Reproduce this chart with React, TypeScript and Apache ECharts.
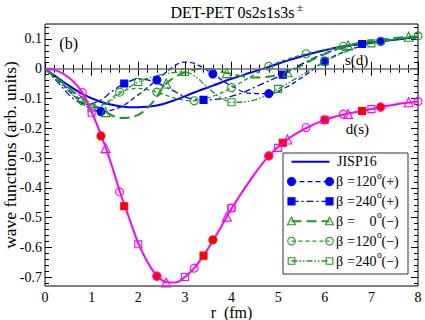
import React, { useEffect, useRef } from "react";
import * as echarts from "echarts";

const FONT = '"Liberation Serif", "Times New Roman", serif';
const BLUE = "#0000ff";
const GREEN = "#1c9a1c";
const MAGENTA = "#ff00ff";
const RED = "#ff0000";

// ---- axes ----
const yMajorTicks = [-0.7, -0.6, -0.5, -0.4, -0.3, -0.2, -0.1, 0, 0.1];
const yMinorTicks: number[] = [];
for (let k = -36; k <= 7; k++) {
  if (k % 5 !== 0) yMinorTicks.push(Math.round(k * 2) / 100);
}

// ---- JISP16 ----
const jispSdR = [0, 0.4, 0.8, 1.2, 1.6, 2.0, 2.4, 2.8, 3.2, 3.6, 4.0, 4.4, 4.8, 5.2, 5.6, 6.0, 6.4, 6.8, 7.2, 7.6, 8.0];
const jispSdV = [0, -0.045, -0.085, -0.112, -0.126, -0.13, -0.124, -0.105, -0.08, -0.057, -0.034, -0.014, 0.006, 0.027, 0.046, 0.062, 0.075, 0.084, 0.091, 0.099, 0.106];

const jispDsR = [0, 0.2, 0.4, 0.6, 0.8, 1.0, 1.2, 1.4, 1.6, 1.8, 2.0, 2.2, 2.4, 2.6, 2.8, 3.0, 3.2, 3.4, 3.6, 3.8, 4.0, 4.4, 4.8, 5.2, 5.6, 6.0, 6.4, 6.8, 7.2, 7.6, 8.0];
const jispDsV = [0, -0.004, -0.018, -0.042, -0.08, -0.145, -0.222, -0.31, -0.41, -0.5, -0.586, -0.65, -0.695, -0.717, -0.718, -0.7, -0.67, -0.628, -0.578, -0.525, -0.47, -0.375, -0.293, -0.238, -0.2, -0.172, -0.154, -0.142, -0.129, -0.118, -0.11];

// ---- s(d) components of the beta states ----
const b120pR = [0, 0.4, 0.8, 1.2, 1.6, 2.0, 2.4, 2.8, 3.0, 3.2, 3.6, 4.0, 4.4, 4.8, 5.2, 5.6, 6.0, 6.4, 6.8, 7.2, 7.6, 8.0];
const b120pV = [0, -0.055, -0.115, -0.144, -0.13, -0.088, -0.038, 0.012, 0.022, 0.018, -0.018, -0.058, -0.083, -0.084, -0.06, -0.02, 0.025, 0.056, 0.077, 0.092, 0.1, 0.106];
const b120pMarkR = [1.2, 2.4, 3.6, 4.8, 6.0, 7.2];

const b240pR = [0, 0.3, 0.6, 0.9, 1.2, 1.45, 1.7, 2.0, 2.3, 2.7, 3.05, 3.4, 3.8, 4.2, 4.6, 5.1, 5.5, 5.9, 6.4, 6.8, 7.2, 7.6, 8.0];
const b240pV = [0, -0.05, -0.1, -0.12, -0.105, -0.075, -0.05, -0.035, -0.042, -0.07, -0.097, -0.105, -0.1, -0.083, -0.055, -0.02, 0.015, 0.045, 0.07, 0.083, 0.092, 0.1, 0.106];
const b240pMarkR = [1.7, 3.4, 5.1, 6.8];

const b0mR = [0, 0.4, 0.8, 1.3, 1.65, 2.0, 2.3, 2.6, 3.0, 3.4, 3.9, 4.5, 5.2, 5.8, 6.5, 7.2, 7.8, 8.0];
const b0mV = [0, -0.05, -0.1, -0.146, -0.166, -0.155, -0.115, -0.05, -0.012, 0.0, -0.015, -0.03, -0.012, 0.035, 0.078, 0.097, 0.107, 0.108];
const b0mMarkR = [1.3, 2.6, 3.9, 5.2, 6.5, 7.8];

const b120mR = [0, 0.4, 0.8, 1.1, 1.35, 1.6, 2.0, 2.4, 2.8, 3.2, 3.6, 4.0, 4.4, 4.8, 5.2, 5.6, 6.0, 6.4, 6.8, 7.2, 7.6, 8.0];
const b120mV = [0, -0.05, -0.108, -0.128, -0.11, -0.079, -0.066, -0.079, -0.1, -0.108, -0.093, -0.064, -0.028, 0.008, 0.032, 0.05, 0.064, 0.075, 0.084, 0.092, 0.101, 0.11];
const b120mMarkR = [0.8, 1.6, 2.4, 3.2, 4.0, 4.8, 5.6, 6.4, 7.2, 8.0];

const b240mR = [0, 0.5, 1.0, 1.3, 1.6, 2.0, 2.5, 3.0, 3.25, 3.5, 3.75, 4.0, 4.5, 5.0, 5.5, 6.0, 6.5, 7.0, 7.5, 8.0];
const b240mV = [0, -0.075, -0.131, -0.12, -0.085, -0.045, -0.02, -0.011, -0.03, -0.065, -0.095, -0.113, -0.105, -0.068, -0.022, 0.024, 0.06, 0.085, 0.098, 0.106];
const b240mMarkR = [1.0, 2.0, 3.0, 4.0, 5.0, 6.0, 7.0];

// ---- d(s) components (markers on the d(s) curve) ----
const ds120pR = [1.2, 2.4, 3.6, 4.8, 6.0, 7.2];
const ds120pV = [-0.226, -0.697, -0.575, -0.293, -0.172, -0.129];
const ds240pR = [1.7, 3.4, 5.1, 6.8];
const ds240pV = [-0.462, -0.628, -0.249, -0.142];
const ds0mR = [1.3, 2.6, 3.9, 5.2, 6.5, 7.8];
const ds0mV = [-0.267, -0.718, -0.497, -0.238, -0.152, -0.113];
const ds120mR = [0.8, 1.6, 2.4, 3.2, 4.0, 4.8, 5.6, 6.4, 7.2, 8.0];
const ds120mV = [-0.08, -0.414, -0.697, -0.67, -0.468, -0.293, -0.198, -0.153, -0.129, -0.11];
const ds240mR = [1.0, 2.0, 3.0, 4.0, 5.0, 6.0, 7.0];
const ds240mV = [-0.148, -0.59, -0.7, -0.468, -0.266, -0.172, -0.136];

// ---- legend ----
const legendNums = ["", "120", "240", "0", "120", "240"];
const legendSigns = ["", "(+)", "(+)", "(\u2212)", "(\u2212)", "(\u2212)"];

const pairs = (r: number[], v: number[]) => r.map((x, i) => [x, v[i]]);
const pick = (r: number[], v: number[], m: number[]) =>
  pairs(r, v).filter((p) => m.includes(p[0]));

const lineS = (r: number[], v: number[], color: string, width: number, type: any, z: number, extra: any = {}) => ({
  type: "line",
  data: pairs(r, v),
  showSymbol: false,
  smooth: 0.35,
  silent: true,
  lineStyle: { color, width, type },
  z,
  ...extra,
});

const markS = (data: number[][], symbol: string, size: number, fill: string, stroke: string, z: number) => ({
  type: "scatter",
  data,
  symbol,
  symbolSize: size,
  silent: true,
  itemStyle: { color: fill, borderColor: stroke, borderWidth: 1.1, opacity: 1 },
  z,
});

const txt = (text: string, x: number, y: number, size: number, align = "left") => ({
  type: "text",
  x,
  y,
  z: 110,
  silent: true,
  style: {
    text,
    fontFamily: FONT,
    fontSize: size,
    fill: "#000",
    align,
    textAlign: align,
    verticalAlign: "middle",
    textVerticalAlign: "middle",
  },
});

function legendMarker(kind: string, cx: number, cy: number, color: string) {
  const st = (filled: boolean) => ({ fill: filled ? color : "rgba(0,0,0,0)", stroke: color, lineWidth: 1.1 });
  if (kind === "fcircle") return { type: "circle", z: 105, shape: { cx, cy, r: 4 }, style: st(true) };
  if (kind === "fsquare") return { type: "rect", z: 105, shape: { x: cx - 3.5, y: cy - 3.5, width: 7, height: 7 }, style: st(true) };
  if (kind === "otri")
    return { type: "polygon", z: 105, shape: { points: [[cx, cy - 4], [cx + 4, cy + 3.5], [cx - 4, cy + 3.5]] }, style: st(false) };
  if (kind === "ocircle") return { type: "circle", z: 105, shape: { cx, cy, r: 3.8 }, style: st(false) };
  return { type: "rect", z: 105, shape: { x: cx - 3.3, y: cy - 3.3, width: 6.6, height: 6.6 }, style: st(false) };
}

const legendStyle = [
  { color: BLUE, width: 2, dash: null, mk: "" },
  { color: BLUE, width: 1.3, dash: [5, 3], mk: "fcircle" },
  { color: BLUE, width: 1.3, dash: [7, 3, 2, 3], mk: "fsquare" },
  { color: GREEN, width: 2, dash: [10, 5], mk: "otri" },
  { color: GREEN, width: 1.3, dash: [4, 3], mk: "ocircle" },
  { color: GREEN, width: 1.3, dash: [6, 2, 1.5, 2, 1.5, 2], mk: "osquare" },
];

function buildGraphic() {
  const g: any[] = [];
  g.push(txt("DET-PET 0s2s1s3s", 170.5, 12.5, 16));
  g.push(txt("\u00b1", 297, 7, 11));
  g.push(txt("(b)", 59.3, 43, 16));
  g.push(txt("s(d)", 345, 60, 15));
  g.push(txt("d(s)", 345.7, 129, 15));
  const bx = 283, by = 153, bw = 125, bh = 121;
  g.push({ type: "rect", z: 100, silent: true, shape: { x: bx, y: by, width: bw, height: bh }, style: { fill: "#fff", stroke: "#333", lineWidth: 1 } });
  const x1 = 291.5, x2 = 329.5, tx = 337;
  for (let i = 0; i < 6; i++) {
    const y = 161.7 + i * 19.86;
    const s = legendStyle[i];
    g.push({ type: "line", z: 102, silent: true, shape: { x1, y1: y, x2, y2: y }, style: { stroke: s.color, lineWidth: s.width, lineDash: s.dash } });
    if (s.mk) {
      g.push(legendMarker(s.mk, x1, y, s.color));
      g.push(legendMarker(s.mk, x2, y, s.color));
    }
    if (i === 0) {
      g.push(txt("JISP16", tx, y, 14));
    } else {
      g.push(txt("\u03b2", tx - 1, y, 14));
      g.push(txt("=", 347, y, 14));
      g.push(txt(legendNums[i], 376.5, y, 14, "right"));
      g.push(txt("o", 377, y - 6, 9.5));
      g.push(txt(legendSigns[i], 381.5, y, 14));
    }
  }
  return g;
}

const tickLbl = { fontFamily: FONT, fontSize: 14, color: "#000", lineHeight: 14 };

const yBase = (pos: string, major: boolean, withLabel: boolean) => ({
  type: "value",
  min: -0.73,
  max: 0.15,
  position: pos,
  axisLine: { show: false },
  splitLine: { show: false },
  axisTick: {
    show: true,
    inside: true,
    length: major ? 7 : 4,
    customValues: major ? yMajorTicks : yMinorTicks,
    lineStyle: { color: "#000", width: 1 },
  },
  axisLabel: withLabel
    ? { show: true, customValues: yMajorTicks, margin: 3, ...tickLbl }
    : { show: false },
});

const xBase = (pos: string, withLabel: boolean) => ({
  type: "value",
  min: 0,
  max: 8,
  interval: 1,
  position: pos,
  axisLine: { show: false },
  splitLine: { show: false },
  axisTick: { show: true, inside: true, length: 7, lineStyle: { color: "#000", width: 1 } },
  minorTick: { show: true, splitNumber: 5, length: 4, lineStyle: { color: "#000", width: 1 } },
  minorSplitLine: { show: false },
  axisLabel: withLabel ? { show: true, margin: 4, ...tickLbl } : { show: false },
});

const option: any = {
  animation: false,
  backgroundColor: "#fff",
  textStyle: { fontFamily: FONT },
  grid: {
    left: 45,
    right: 7,
    top: 24,
    bottom: 34,
    containLabel: false,
    outerBoundsMode: "none",
    show: true,
    borderColor: "#000",
    borderWidth: 1,
    backgroundColor: "transparent",
  },
  xAxis: [
    {
      ...xBase("bottom", true),
      name: "r  (fm)",
      nameLocation: "middle",
      nameGap: 18.5,
      nameMoveOverlap: false,
      nameTextStyle: { fontFamily: FONT, fontSize: 16, color: "#000", verticalAlign: "top" },
    },
    xBase("top", false),
  ],
  yAxis: [
    {
      ...yBase("left", true, true),
      name: "wave functions (arb. units)",
      nameLocation: "middle",
      nameRotate: 90,
      nameGap: 26,
      nameMoveOverlap: false,
      nameTextStyle: { fontFamily: FONT, fontSize: 17.5, color: "#000", verticalAlign: "bottom" },
    },
    yBase("left", false, false),
    yBase("right", true, false),
    yBase("right", false, false),
  ],
  series: [
    lineS(jispSdR, jispSdV, BLUE, 2, "solid", 2, {
      markLine: {
        silent: true,
        symbol: "none",
        label: { show: false },
        lineStyle: { color: "#6e6e6e", width: 1.5, type: "solid" },
        data: [{ yAxis: 0 }],
      },
    }),
    lineS(b120pR, b120pV, BLUE, 1.3, [5, 3], 3),
    lineS(b240pR, b240pV, BLUE, 1.3, [7, 3, 2, 3], 3),
    lineS(b0mR, b0mV, GREEN, 2, [10, 5], 3),
    lineS(b120mR, b120mV, GREEN, 1.3, [4, 3], 3),
    lineS(b240mR, b240mV, GREEN, 1.3, [6, 2, 1.5, 2, 1.5, 2], 3),
    markS(pick(b120pR, b120pV, b120pMarkR), "circle", 8, BLUE, BLUE, 4),
    markS(pick(b240pR, b240pV, b240pMarkR), "rect", 7, BLUE, BLUE, 4),
    markS(pick(b0mR, b0mV, b0mMarkR), "triangle", 9, "rgba(0,0,0,0)", GREEN, 4),
    markS(pick(b120mR, b120mV, b120mMarkR), "circle", 8, "rgba(0,0,0,0)", GREEN, 4),
    markS(pick(b240mR, b240mV, b240mMarkR), "rect", 7, "rgba(0,0,0,0)", GREEN, 4),
    lineS(jispDsR, jispDsV, MAGENTA, 2, "solid", 5),
    markS(pairs(ds120pR, ds120pV), "circle", 8, RED, RED, 6),
    markS(pairs(ds240pR, ds240pV), "rect", 7, RED, RED, 6),
    markS(pairs(ds0mR, ds0mV), "triangle", 9, "rgba(0,0,0,0)", MAGENTA, 6),
    markS(pairs(ds120mR, ds120mV), "circle", 8, "rgba(0,0,0,0)", MAGENTA, 6),
    markS(pairs(ds240mR, ds240mV), "rect", 7, "rgba(0,0,0,0)", MAGENTA, 6),
  ],
  graphic: buildGraphic(),
};

export default function App() {
  const ref = useRef<HTMLDivElement>(null);
  useEffect(() => {
    document.body.style.margin = "0";
    const chart = echarts.init(ref.current as HTMLDivElement, null, { renderer: "svg" });
    chart.setOption(option);
    return () => chart.dispose();
  }, []);
  return (
    <div
      ref={ref}
      style={{ position: "absolute", left: 0, top: 0, width: 425, height: 320, background: "#fff" }}
    />
  );
}
